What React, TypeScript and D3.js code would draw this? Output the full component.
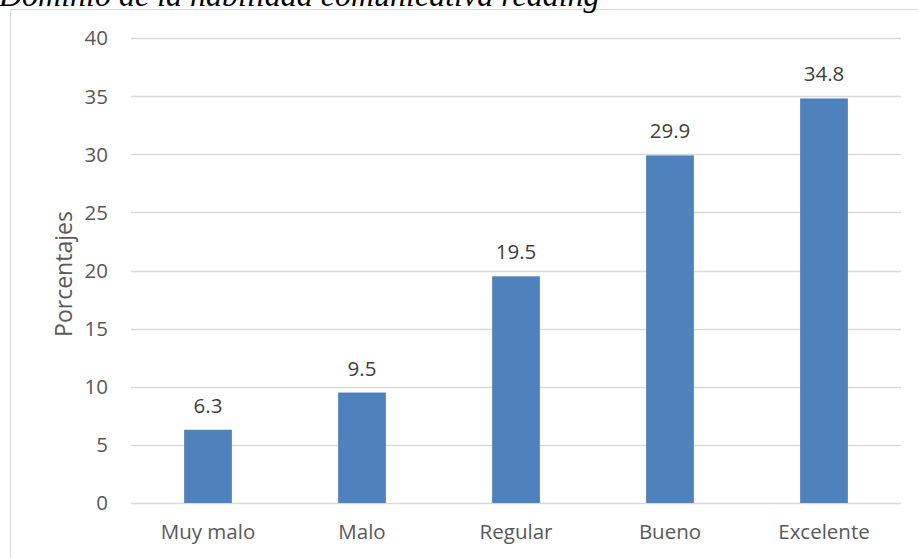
import React from "react";
import * as d3 from "d3";

const categories = ["Muy malo", "Malo", "Regular", "Bueno", "Excelente"];
const values = [6.3, 9.5, 19.5, 29.9, 34.8];
const yTicks = [0, 5, 10, 15, 20, 25, 30, 35, 40];
const title = "Dominio de la habilidad comunicativa reading";
const yTitle = "Porcentajes";

export default function App() {
  const W = 918, H = 558;
  const left = 131, right = 901, top = 38, bottom = 503;
  const x = d3.scaleBand<string>().domain(categories).range([left, right]).paddingInner(0.69).paddingOuter(0.345);
  const y = d3.scaleLinear().domain([0, 40]).range([bottom, top]);
  const font = "'Open Sans', 'Noto Sans', sans-serif";
  const fs = 20.5;
  return (
    <svg width={W} height={H} style={{ position: "absolute", left: 0, top: 0, background: "#fff" }}>
      <rect x={10.5} y={9.5} width={1000} height={1000} fill="#fff" stroke="#d9d9d9" strokeWidth={1} />
      <text x={-1} y={6} fontFamily="'Liberation Serif', 'Times New Roman', serif" fontStyle="italic" fontSize={32} fill="#000">{title}</text>
      {yTicks.map((t) => (
        <g key={t}>
          <line x1={left} x2={right} y1={Math.round(y(t)) + 0.5} y2={Math.round(y(t)) + 0.5} stroke="#d9d9d9" strokeWidth={1.5} />
          <text x={108} y={y(t)} dy="0.36em" textAnchor="end" fontFamily={font} fontSize={fs} fill="#595959">{t}</text>
        </g>
      ))}
      {categories.map((c, i) => (
        <g key={c}>
          <rect x={x(c)} y={y(values[i])} width={x.bandwidth()} height={y(0) - y(values[i])} fill="#4f81bd" />
          <text x={(x(c) as number) + x.bandwidth() / 2} y={y(values[i]) - 17} textAnchor="middle" fontFamily={font} fontSize={fs} fill="#404040">{values[i]}</text>
          <text x={(x(c) as number) + x.bandwidth() / 2} y={539} textAnchor="middle" fontFamily={font} fontSize={fs} fill="#595959">{c}</text>
        </g>
      ))}
      <text transform={`translate(72,274) rotate(-90)`} textAnchor="middle" fontFamily={font} fontSize={23} fill="#595959">{yTitle}</text>
    </svg>
  );
}
